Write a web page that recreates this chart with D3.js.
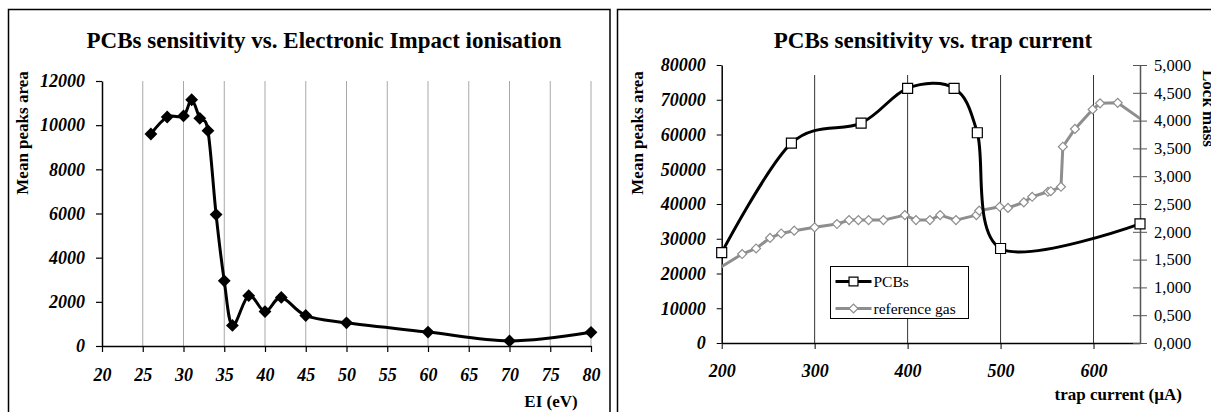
<!DOCTYPE html>
<html>
<head>
<meta charset="utf-8">
<script src="https://cdn.jsdelivr.net/npm/d3@7"></script>
<style>
body {margin:0; background:#fff;}
text {font-family:"Liberation Serif","Times New Roman",serif;}
</style>
</head>
<body>
<svg id="chart" width="1211" height="412"></svg>
<script>
// left chart: sensitivity vs. electron energy
var eiVolts = [26, 28, 30, 31, 32, 33, 34, 35, 36, 38, 40, 42, 45, 50, 60, 70, 80];
var eiArea = [9600, 10370, 10420, 11150, 10310, 9750, 5950, 2950, 930, 2280, 1560, 2200, 1380, 1050, 630, 230, 620];
var eiTicksX = [20, 25, 30, 35, 40, 45, 50, 55, 60, 65, 70, 75, 80];
var eiTicksY = [0, 2000, 4000, 6000, 8000, 10000, 12000];

// right chart: sensitivity vs. trap current
var pcbCurrent = [200, 275, 350, 400, 450, 475, 500, 650];
var pcbArea = [26000, 57500, 63300, 73300, 73300, 60500, 27200, 34300];
// reference gas continues past both ends of the plot, it is clipped
var gasCurrent = [190, 222, 237, 252, 264, 278, 300, 324, 337, 347, 358, 374, 397, 409, 424, 435, 452, 474, 477, 499, 508, 525, 534, 551, 554, 565, 567, 580, 599, 607, 626, 660];
var gasLock = [1.27, 1.60, 1.70, 1.89, 1.97, 2.02, 2.08, 2.14, 2.21, 2.21, 2.21, 2.21, 2.30, 2.21, 2.21, 2.30, 2.21, 2.30, 2.38, 2.45, 2.43, 2.53, 2.63, 2.72, 2.73, 2.81, 3.53, 3.85, 4.20, 4.31, 4.32, 3.92];
var trapTicksX = [200, 300, 400, 500, 600];
var trapTicksY = [0, 10000, 20000, 30000, 40000, 50000, 60000, 70000, 80000];
var lockTicks = [0, 0.5, 1, 1.5, 2, 2.5, 3, 3.5, 4, 4.5, 5];

var svg = d3.select('#chart');
var smooth = d3.curveCatmullRom.alpha(0);

function styleTicks(g, size, italic) {
	g.selectAll('text')
		.style('font-size', size + 'px')
		.style('font-weight', italic ? 'bold' : 'normal')
		.style('font-style', italic ? 'italic' : 'normal')
		.attr('fill', '#000');}

// frames
svg.append('rect')
	.attr('x', 8.5).attr('y', 9.5)
	.attr('width', 601.5).attr('height', 440)
	.attr('fill', 'none').attr('stroke', '#000').attr('stroke-width', 1.5);
svg.append('rect')
	.attr('x', 617.5).attr('y', 9.5)
	.attr('width', 640).attr('height', 440)
	.attr('fill', 'none').attr('stroke', '#000').attr('stroke-width', 1.5);

// ---------- left chart ----------
(function() {
	var x = d3.scaleLinear().domain([20, 80]).range([102, 591]),
			y = d3.scaleLinear().domain([0, 12000]).range([346, 81]),
			g = svg.append('g');

	g.append('text')
		.attr('x', 324).attr('y', 48)
		.attr('text-anchor', 'middle')
		.style('font-size', '23px').style('font-weight', 'bold')
		.text('PCBs sensitivity vs. Electronic Impact ionisation');

	g.selectAll('.grid').data(eiTicksX.slice(1)).enter()
		.append('line')
		.attr('x1', x).attr('x2', x)
		.attr('y1', y(12000)).attr('y2', y(0))
		.attr('stroke', '#a8a8a8').attr('stroke-width', 1);

	var ax = g.append('g')
		.attr('transform', 'translate(0,' + y(0) + ')')
		.call(d3.axisBottom(x).tickValues(eiTicksX).tickSize(6).tickSizeOuter(0).tickPadding(16).tickFormat(d3.format('d')));
	ax.select('.domain').attr('stroke-width', 1.5);
	ax.selectAll('line').attr('stroke-width', 1.2);
	styleTicks(ax, 18, true);

	var ay = g.append('g')
		.attr('transform', 'translate(' + x(20) + ',0)')
		.call(d3.axisLeft(y).tickValues(eiTicksY).tickSize(6).tickSizeOuter(0).tickPadding(11).tickFormat(d3.format('d')));
	ay.select('.domain').attr('stroke-width', 1.5);
	ay.selectAll('line').attr('stroke-width', 1.2);
	styleTicks(ay, 18, true);

	g.append('text')
		.attr('transform', 'translate(28,133)rotate(-90)')
		.attr('text-anchor', 'middle')
		.style('font-size', '17px').style('font-weight', 'bold')
		.text('Mean peaks area');
	g.append('text')
		.attr('x', 551).attr('y', 407)
		.attr('text-anchor', 'middle')
		.style('font-size', '17px').style('font-weight', 'bold')
		.text('EI (eV)');

	var pts = eiVolts.map(function(v, i) {return [v, eiArea[i]];});
	g.append('path')
		.datum(pts)
		.attr('fill', 'none').attr('stroke', '#000').attr('stroke-width', 3)
		.attr('stroke-linejoin', 'round')
		.attr('d', d3.line().x(function(d) {return x(d[0]);}).y(function(d) {return y(d[1]);}).curve(smooth));
	g.selectAll('.pt').data(pts).enter()
		.append('path')
		.attr('transform', function(d) {return 'translate(' + x(d[0]) + ',' + y(d[1]) + ')rotate(45)';})
		.attr('d', d3.symbol(d3.symbolSquare, 82))
		.attr('fill', '#000');
})();

// ---------- right chart ----------
(function() {
	var x = d3.scaleLinear().domain([200, 650]).range([721.7, 1140]),
			y = d3.scaleLinear().domain([0, 80000]).range([343, 65]),
			yr = d3.scaleLinear().domain([0, 5]).range([343, 65]),
			g = svg.append('g');

	g.append('text')
		.attr('x', 933).attr('y', 48)
		.attr('text-anchor', 'middle')
		.style('font-size', '23px').style('font-weight', 'bold')
		.text('PCBs sensitivity vs. trap current');

	g.selectAll('.grid').data(trapTicksX.slice(1)).enter()
		.append('line')
		.attr('x1', x).attr('x2', x)
		.attr('y1', 75).attr('y2', y(0))
		.attr('stroke', '#333').attr('stroke-width', 1);

	var ax = g.append('g')
		.attr('transform', 'translate(0,' + y(0) + ')')
		.call(d3.axisBottom(x).tickValues(trapTicksX).tickSize(6).tickSizeOuter(0).tickPadding(15).tickFormat(d3.format('d')));
	ax.select('.domain').attr('stroke-width', 1.5);
	styleTicks(ax, 18, true);

	var ay = g.append('g')
		.attr('transform', 'translate(' + x(200) + ',0)')
		.call(d3.axisLeft(y).tickValues(trapTicksY).tickSize(5).tickSizeOuter(0).tickPadding(11).tickFormat(d3.format('d')));
	ay.select('.domain').attr('stroke-width', 1.5);
	styleTicks(ay, 18, true);

	var ar = g.append('g')
		.attr('transform', 'translate(' + x(650) + ',0)')
		.call(d3.axisRight(yr).tickValues(lockTicks).tickSize(7).tickSizeOuter(0).tickPadding(7)
			.tickFormat(function(d) {return d3.format('.3f')(d).replace('.', ',');}));
	ar.select('.domain').attr('stroke', '#555').attr('stroke-width', 1.5);
	ar.selectAll('line').attr('x1', -7).attr('stroke', '#555');
	styleTicks(ar, 16.5, false);

	g.append('text')
		.attr('transform', 'translate(643,133)rotate(-90)')
		.attr('text-anchor', 'middle')
		.style('font-size', '17px').style('font-weight', 'bold')
		.text('Mean peaks area');
	g.append('text')
		.attr('transform', 'translate(1203,70)rotate(90)')
		.style('font-size', '17px').style('font-weight', 'bold')
		.text('Lock mass');
	g.append('text')
		.attr('x', 1182).attr('y', 400)
		.attr('text-anchor', 'end')
		.style('font-size', '17px').style('font-weight', 'bold')
		.text('trap current (\u00b5A)');

	svg.append('clipPath').attr('id', 'plot-clip')
		.append('rect')
		.attr('x', x(200)).attr('y', 0)
		.attr('width', x(650) - x(200)).attr('height', 412);

	// reference gas, right axis
	var gas = gasCurrent.map(function(c, i) {return [c, gasLock[i]];});
	var gg = g.append('g').attr('clip-path', 'url(#plot-clip)');
	gg.append('path')
		.datum(gas)
		.attr('fill', 'none').attr('stroke', '#8e8e8e').attr('stroke-width', 3)
		.attr('stroke-linejoin', 'round')
		.attr('d', d3.line().x(function(d) {return x(d[0]);}).y(function(d) {return yr(d[1]);}));
	gg.selectAll('.gas').data(gas).enter()
		.append('path')
		.attr('transform', function(d) {return 'translate(' + x(d[0]) + ',' + yr(d[1]) + ')rotate(45)';})
		.attr('d', d3.symbol(d3.symbolSquare, 40))
		.attr('fill', '#fff').attr('stroke', '#8e8e8e').attr('stroke-width', 1.2);

	// PCBs, left axis
	var pcb = pcbCurrent.map(function(c, i) {return [c, pcbArea[i]];});
	g.append('path')
		.datum(pcb)
		.attr('fill', 'none').attr('stroke', '#000').attr('stroke-width', 3)
		.attr('d', d3.line().x(function(d) {return x(d[0]);}).y(function(d) {return y(d[1]);}).curve(smooth));
	g.selectAll('.pcb').data(pcb).enter()
		.append('path')
		.attr('transform', function(d) {return 'translate(' + x(d[0]) + ',' + y(d[1]) + ')';})
		.attr('d', d3.symbol(d3.symbolSquare, 100))
		.attr('fill', '#fff').attr('stroke', '#000').attr('stroke-width', 1.2);

	// legend
	var lg = g.append('g').attr('transform', 'translate(830.5,266.5)');
	lg.append('rect')
		.attr('width', 138).attr('height', 52)
		.attr('fill', '#fff').attr('stroke', '#000').attr('stroke-width', 1);
	var items = [
		{name: 'PCBs', color: '#000', shape: 0, size: 80},
		{name: 'reference gas', color: '#8e8e8e', shape: 45, size: 40}];
	var row = lg.selectAll('.item').data(items).enter()
		.append('g')
		.attr('transform', function(d, i) {return 'translate(0,' + (15 + i * 27) + ')';});
	row.append('line')
		.attr('x1', 5).attr('x2', 41)
		.attr('stroke', function(d) {return d.color;}).attr('stroke-width', 3);
	row.append('path')
		.attr('transform', function(d) {return 'translate(23,0)rotate(' + d.shape + ')';})
		.attr('d', function(d) {return d3.symbol(d3.symbolSquare, d.size)();})
		.attr('fill', '#fff')
		.attr('stroke', function(d) {return d.color;}).attr('stroke-width', 1.2);
	row.append('text')
		.attr('x', 43).attr('y', 5)
		.style('font-size', '15.5px')
		.text(function(d) {return d.name;});
})();
</script>
</body>
</html>
